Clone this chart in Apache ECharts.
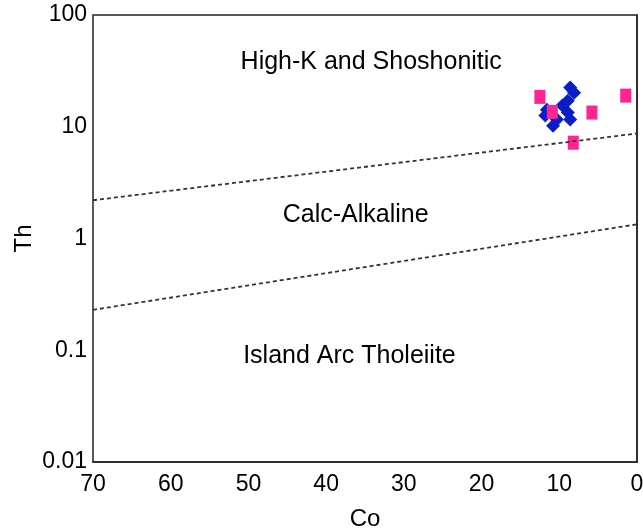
<!DOCTYPE html>
<html>
<head>
<meta charset="utf-8">
<script src="https://cdn.jsdelivr.net/npm/echarts@6/dist/echarts.min.js"></script>
<style>
  html, body { margin: 0; padding: 0; background: #fff; }
  #chart { width: 643px; height: 530px; }
</style>
</head>
<body>
<div id="chart"></div>
<script>
// Co (ppm) and Th (ppm) sample values
const blueCo = [8.6, 8.1, 8.9, 9.6, 11.6, 11.8, 8.9, 8.6, 10.8, 10.3];
const blueTh = [22.4, 20.2, 17.1, 15.5, 14.2, 12.6, 13.4, 11.6, 10.2, 11.6];
const pinkCo = [12.5, 10.9, 5.8, 1.45, 8.2];
const pinkTh = [18.5, 13.6, 13.4, 19.0, 7.2];

// Field boundaries (Co, Th end points)
const upperBoundary = [[70, 2.2], [0, 8.7]];
const lowerBoundary = [[70, 0.23], [0, 1.34]];

// Field names and where they sit (Co, Th)
const fieldNames = ['High-K and Shoshonitic', 'Calc-Alkaline', 'Island Arc Tholeiite'];
const fieldAnchors = [[34.2, 37.5], [36.2, 1.62], [37.0, 0.088]];

const yTicks = [0.01, 0.1, 1, 10, 100];

const zip = (a, b) => a.map((v, i) => [v, b[i]]);

const chart = echarts.init(document.getElementById('chart'), null, { renderer: 'canvas' });

const font = 'Arial, "Liberation Sans", sans-serif';

chart.setOption({
  animation: false,
  backgroundColor: '#ffffff',
  grid: {
    left: 93, right: 6, top: 15, bottom: 68,
    containLabel: false, outerBoundsMode: 'none',
    show: true, borderColor: '#222', borderWidth: 1.5
  },
  xAxis: {
    type: 'value', min: 0, max: 70, interval: 10, inverse: true,
    name: 'Co', nameLocation: 'middle', nameGap: 45,
    nameTextStyle: { fontSize: 24, color: '#000', fontFamily: font },
    axisLine: { lineStyle: { color: '#222', width: 1.5 } },
    axisTick: { show: false },
    splitLine: { show: false },
    axisLabel: { fontSize: 23, color: '#000', fontFamily: font, margin: 11 }
  },
  yAxis: {
    type: 'log', logBase: 10, min: 0.01, max: 100,
    name: 'Th', nameLocation: 'middle', nameGap: 57, nameRotate: 90,
    nameMoveOverlap: false,
    nameTextStyle: { fontSize: 24, color: '#000', fontFamily: font },
    axisLine: { show: true, lineStyle: { color: '#222', width: 1.5 } },
    axisTick: { show: false },
    splitLine: { show: false },
    minorTick: { show: false },
    axisLabel: {
      fontSize: 23, color: '#000', fontFamily: font, margin: 6,
      formatter: v => {
        const t = yTicks.find(k => Math.abs(Math.log10(k) - Math.log10(v)) < 1e-6);
        return t === undefined ? '' : String(t);
      }
    }
  },
  series: [
    {
      type: 'line', data: upperBoundary, symbol: 'none', silent: true,
      lineStyle: { color: '#333', width: 1.8, type: [4, 3] }
    },
    {
      type: 'line', data: lowerBoundary, symbol: 'none', silent: true,
      lineStyle: { color: '#333', width: 1.8, type: [4, 3] }
    },
    {
      type: 'scatter', data: zip(blueCo, blueTh),
      symbol: 'diamond', symbolSize: [14, 14],
      itemStyle: { color: '#0a1ec8', opacity: 1 }
    },
    {
      type: 'scatter', data: zip(pinkCo, pinkTh),
      symbol: 'rect', symbolSize: [11, 14],
      itemStyle: { color: '#ff2590', opacity: 1 }
    },
    {
      type: 'scatter', silent: true, symbolSize: 0,
      data: fieldAnchors,
      label: {
        show: true, position: 'inside', opacity: 1,
        formatter: p => fieldNames[p.dataIndex],
        fontSize: 25, color: '#000', fontFamily: font,
        textBorderWidth: 0
      }
    }
  ]
});
</script>
</body>
</html>
